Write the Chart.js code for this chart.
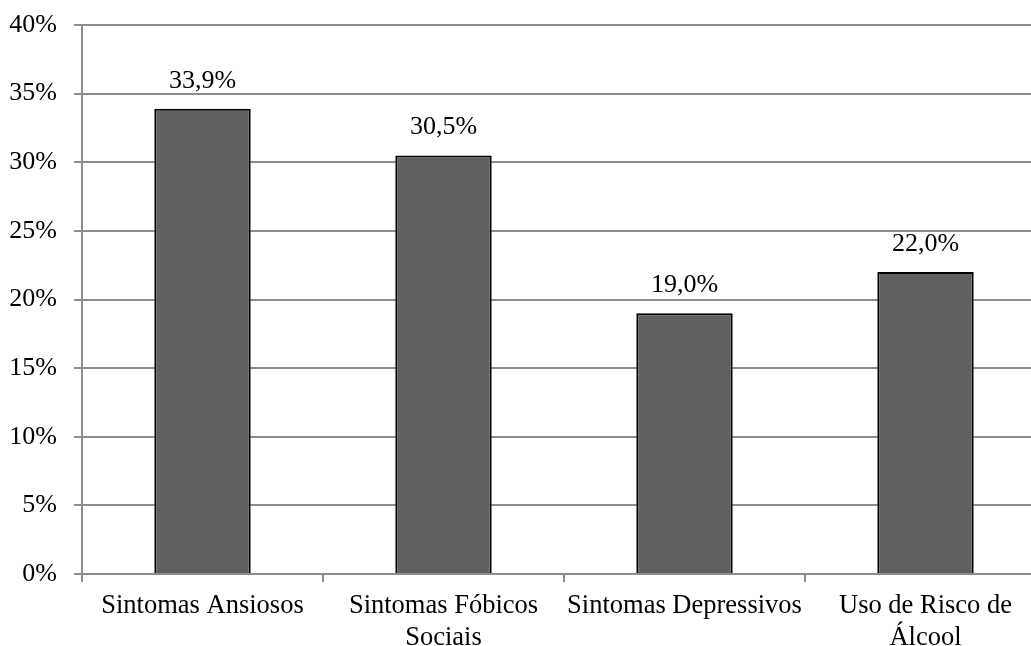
<!DOCTYPE html>
<html lang="pt">
<head>
<meta charset="utf-8">
<title>Prevalência de sintomas</title>
<script src="https://cdn.jsdelivr.net/npm/chart.js@4.4.1/dist/chart.umd.min.js"></script>
<style>
  html, body { margin: 0; padding: 0; background: #fff; overflow: hidden; }
  #wrap { width: 1046px; height: 646px; }
</style>
</head>
<body>
<div id="wrap"><canvas id="chart" width="1046" height="646"></canvas></div>
<script>
// Categorias (rótulos em duas linhas quando necessário)
const categories = [
  'Sintomas Ansiosos',
  ['Sintomas Fóbicos', 'Sociais'],
  'Sintomas Depressivos',
  ['Uso de Risco de', 'Álcool']
];
// Percentagens por categoria
const percentages = [33.9, 30.5, 19.0, 22.0];
// Marcas do eixo Y
const yTicks = [0, 5, 10, 15, 20, 25, 30, 35, 40];

const FONT = "'Liberation Serif', 'Times New Roman', serif";
const GRID = '#8c8c8c';

// Escreve o valor por cima de cada barra
const valueLabels = {
  id: 'valueLabels',
  afterDatasetsDraw(chart) {
    const ctx = chart.ctx;
    const meta = chart.getDatasetMeta(0);
    ctx.save();
    ctx.font = '26px ' + FONT;
    ctx.fillStyle = '#000';
    ctx.textAlign = 'center';
    ctx.textBaseline = 'alphabetic';
    meta.data.forEach((bar, i) => {
      const txt = percentages[i].toFixed(1).replace('.', ',') + '%';
      ctx.fillText(txt, bar.x, bar.y - 21);
    });
    ctx.restore();
  }
};

new Chart(document.getElementById('chart'), {
  type: 'bar',
  data: {
    labels: categories,
    datasets: [{
      data: percentages,
      backgroundColor: '#606060',
      borderColor: '#000',
      borderWidth: 2,
      barPercentage: 0.4,
      categoryPercentage: 1.0
    }]
  },
  options: {
    responsive: false,
    animation: false,
    devicePixelRatio: 1,
    layout: { padding: { top: 25, left: 0, right: 0, bottom: 0 } },
    plugins: {
      legend: { display: false },
      tooltip: { enabled: false }
    },
    scales: {
      x: {
        offset: true,
        grid: {
          offset: true,
          drawOnChartArea: false,
          drawTicks: true,
          tickLength: 8,
          color: GRID,
          lineWidth: 2
        },
        border: { color: GRID, width: 2 },
        ticks: {
          font: { family: FONT, size: 26.5, lineHeight: 1.2 },
          color: '#000',
          padding: 8,
          maxRotation: 0,
          minRotation: 0,
          autoSkip: false
        },
        afterFit(scale) { scale.height = 72; }
      },
      y: {
        min: 0,
        max: 40,
        afterBuildTicks(scale) { scale.ticks = yTicks.map(v => ({ value: v })); },
        grid: {
          color: GRID,
          lineWidth: 2,
          drawTicks: true,
          tickLength: 8
        },
        border: { color: GRID, width: 2 },
        ticks: {
          font: { family: FONT, size: 26 },
          color: '#000',
          padding: 17,
          callback: v => v + '%'
        },
        afterFit(scale) {
          scale.width = 82;
          scale.paddingTop = 0;
          scale.paddingBottom = 0;
        }
      }
    }
  },
  plugins: [valueLabels]
});
</script>
</body>
</html>
